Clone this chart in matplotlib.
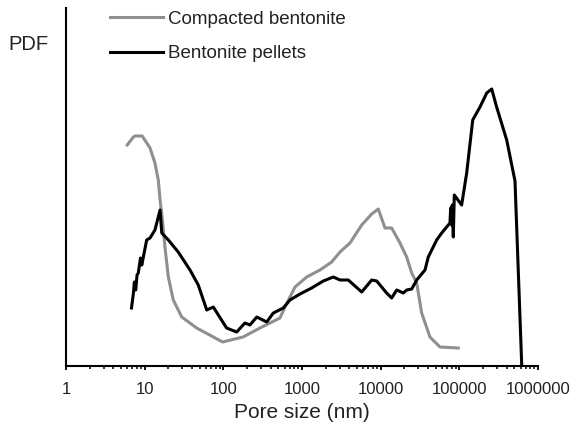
import matplotlib
matplotlib.use("Agg")
import matplotlib.pyplot as plt
from matplotlib.ticker import LogLocator, NullFormatter, FixedFormatter, FixedLocator

plt.rcParams['font.family'] = ['Liberation Sans', 'DejaVu Sans']

# pore size (nm) and PDF (arbitrary units)
compacted_size = [6.0, 7.2, 7.5, 9.3, 11.7, 13.5, 14.9, 15.7, 16.8, 18.1, 20.0, 23.1,
                  29.6, 45.8, 98, 178, 292, 525, 608, 815, 1148, 1693, 2385, 3040,
                  4075, 5740, 7690, 9330, 11350, 13800, 17600, 21400, 24800, 28700,
                  33200, 42300, 56800, 97000]
compacted_pdf = [221, 229, 230, 230, 218, 203, 186, 166, 146, 119, 89, 66,
                 49, 38, 24, 29, 38, 48, 59, 79, 89, 96, 104, 114,
                 123, 141, 152, 157, 138, 138, 123, 109, 93, 83,
                 53, 29, 19, 18]

pellets_size = [6.8, 7.2, 7.4, 7.7, 8.0, 8.3, 8.85, 9.2, 10.6, 11.7, 13.5, 15.7,
                16.5, 20.0, 26.7, 37.7, 48, 61.5, 74.5, 110, 148, 188, 218, 266,
                356, 432, 578, 703, 943, 1327, 1865, 2500, 3040, 3875, 5740, 7690,
                8900, 11900, 13800, 16000, 19400, 21400, 24800, 28700, 36600, 40300,
                51500, 59700, 76000, 77600, 80000, 81300, 83800, 86300, 107000,
                124000, 148000, 183000, 223000, 258000, 298000, 400000, 510000, 621000]
pellets_pdf = [58, 73, 84, 76, 91, 93, 108, 101, 126, 128, 136, 156,
               133, 126, 114, 96, 81, 56, 59, 38, 34, 43, 41, 49,
               44, 53, 58, 66, 72, 78, 85, 89, 86, 86, 74, 86,
               85, 73, 68, 76, 73, 76, 77, 86, 96, 109,
               126, 133, 143, 158, 141, 161, 129, 171, 161,
               193, 246, 259, 273, 277, 259, 226, 185, 1]

decades = [1, 10, 100, 1000, 10000, 100000, 1000000]
decade_labels = ['1', '10', '100', '1000', '10000', '100000', '1000000']

text_color = '#222222'

fig = plt.figure(figsize=(5.76, 4.28), dpi=100)
ax = fig.add_axes([66/576, 1-366/428, (538-66)/576, (366-8)/428])

ax.plot(compacted_size, compacted_pdf, color='#8f8f8f', lw=2.2, label='Compacted bentonite')
ax.plot(pellets_size, pellets_pdf, color='black', lw=2.2, label='Bentonite pellets')

ax.set_xscale('log')
ax.set_xlim(1, 1e6)
ax.set_ylim(0, 358)

ax.xaxis.set_major_locator(FixedLocator(decades))
ax.xaxis.set_major_formatter(FixedFormatter(decade_labels))
ax.xaxis.set_minor_locator(LogLocator(base=10, subs=range(2, 10), numticks=20))
ax.xaxis.set_minor_formatter(NullFormatter())
ax.tick_params(axis='x', which='major', direction='out', length=3.0, width=1.3,
               labelsize=12, pad=8.5, labelcolor=text_color)
ax.tick_params(axis='x', which='minor', direction='out', length=2.2, width=1.1)
ax.set_yticks([])

for side in ['top', 'right']:
    ax.spines[side].set_visible(False)
for side in ['left', 'bottom']:
    ax.spines[side].set_linewidth(1.5)

ax.set_xlabel('Pore size (nm)', fontsize=15, labelpad=4, color=text_color)
fig.text(8/576, 1-45/428, 'PDF', fontsize=14.5, va='center', ha='left', color=text_color)

leg = ax.legend(loc='upper left', bbox_to_anchor=(110/576, 1-10.5/428),
                bbox_transform=fig.transFigure, frameon=False, fontsize=13.5,
                handlelength=2.83, handletextpad=0.27, labelspacing=0.94,
                borderpad=0, borderaxespad=0)
for t in leg.get_texts():
    t.set_color(text_color)

fig.savefig('out.png', dpi=100)
